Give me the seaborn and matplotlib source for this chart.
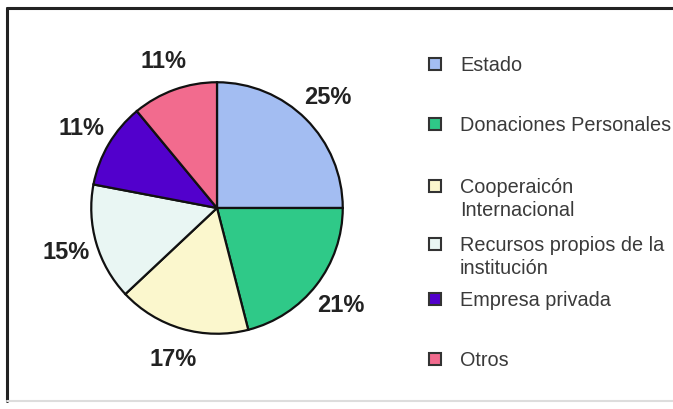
import matplotlib
matplotlib.use("Agg")
import matplotlib.pyplot as plt
from matplotlib.patches import Rectangle
from matplotlib.lines import Line2D
import seaborn as sns

# Data
categorias = ["Estado", "Donaciones Personales", "Cooperaicón\nInternacional",
              "Recursos propios de la\ninstitución", "Empresa privada", "Otros"]
porcentajes = [25, 21, 17, 15, 11, 11]
colores = ["#a3bdf2", "#2fc988", "#fbf7cd", "#e9f6f3", "#5200cc", "#f26b8e"]

# row centres of the legend (pixels from top of the figure)
leyenda_y = [65, 125, 187, 245, 300, 360]

sns.set_theme(style="white")
plt.rcParams['font.family'] = ['Liberation Sans', 'DejaVu Sans']

W, H = 673, 410
fig = plt.figure(figsize=(W / 100, H / 100), dpi=100)
fig.patch.set_facecolor("white")

# pie axes: centre (217, 209), radius 127 px
cx, cy, r = 217, 209, 127
ax = fig.add_axes([(cx - r) / W, (H - cy - r) / H, 2 * r / W, 2 * r / H])
palette = sns.color_palette(colores)

wedges, texts, autotexts = ax.pie(
    porcentajes,
    colors=palette,
    startangle=90,
    counterclock=False,
    autopct=lambda p: f"{p:.0f}%",
    pctdistance=1.25,
    wedgeprops=dict(edgecolor="#111111", linewidth=1.6),
    textprops=dict(fontsize=17, fontweight="bold", color="#222222"),
)
ax.set_xlim(-1.01, 1.01)
ax.set_ylim(-1.01, 1.01)
ax.axis("off")

# legend drawn entry by entry to keep the uneven spacing
for lab, col, yy in zip(categorias, palette, leyenda_y):
    s = 12
    fig.add_artist(Rectangle((429 / W, (H - yy - s / 2) / H), s / W, s / H,
                             transform=fig.transFigure, facecolor=col,
                             edgecolor="#333333", linewidth=1.5))
    fig.text(460 / W, (H - yy + 9) / H, lab, fontsize=14.3, color="#3a3a3a",
             va="top", ha="left", linespacing=1.25)

# outer frame
fig.add_artist(Line2D([7 / W, 7 / W], [8 / H, 1 - 9 / H], color="#222222",
                      linewidth=2.2, transform=fig.transFigure))
fig.add_artist(Line2D([7 / W, 1.0], [1 - 9 / H, 1 - 9 / H], color="#222222",
                      linewidth=2.2, transform=fig.transFigure))
fig.add_artist(Line2D([7 / W, 1.0], [8 / H, 8 / H], color="#dddddd",
                      linewidth=1.5, transform=fig.transFigure))

fig.savefig("out.png", dpi=100)
